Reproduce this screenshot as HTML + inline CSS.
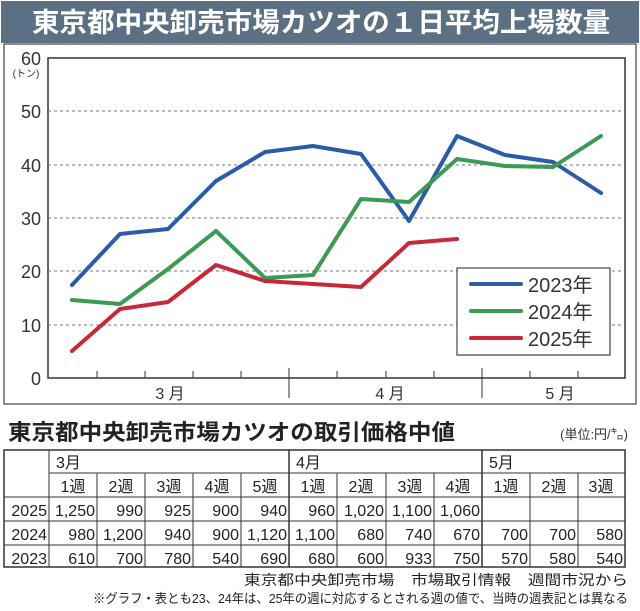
<!DOCTYPE html>
<html><head><meta charset="utf-8"><style>
body{margin:0;width:640px;height:606px;background:#fff;overflow:hidden;font-family:"Liberation Sans","Noto Sans CJK JP",sans-serif;}
</style></head><body>
<svg width="640" height="606" xmlns="http://www.w3.org/2000/svg" font-family="Liberation Sans, Noto Sans CJK JP, sans-serif">
<rect x="0" y="0" width="640" height="606" fill="#fff"/>
<rect x="1" y="1" width="638" height="42" fill="#5b7083"/>
<text x="32" y="32" font-size="27" font-weight="bold" fill="#fff" textLength="578" lengthAdjust="spacingAndGlyphs" font-family="Noto Sans CJK JP, sans-serif">東京都中央卸売市場カツオの１日平均上場数量</text>
<rect x="4" y="44" width="632" height="360" fill="none" stroke="#444" stroke-width="1.2"/>
<rect x="48" y="58" width="577" height="320" fill="none" stroke="#333" stroke-width="1.5"/>
<g stroke="#777" stroke-dasharray="3,3" stroke-width="1">
<line x1="48" y1="111" x2="625" y2="111"/><line x1="48" y1="165" x2="625" y2="165"/><line x1="48" y1="218" x2="625" y2="218"/><line x1="48" y1="271" x2="625" y2="271"/><line x1="48" y1="325" x2="625" y2="325"/>
</g>
<g font-size="18" fill="#333" text-anchor="end">
<text x="41" y="65">60</text><text x="41" y="118">50</text><text x="41" y="172">40</text><text x="41" y="225">30</text><text x="41" y="278">20</text><text x="41" y="332">10</text><text x="41" y="385">0</text>
</g>
<text x="26" y="77" font-size="10" fill="#333" text-anchor="middle">(トン)</text>
<g stroke="#333" stroke-width="1">
<line x1="97" y1="371" x2="97" y2="378"/><line x1="145" y1="371" x2="145" y2="378"/><line x1="193" y1="371" x2="193" y2="378"/><line x1="241" y1="371" x2="241" y2="378"/>
<line x1="289" y1="368" x2="289" y2="398"/>
<line x1="337" y1="371" x2="337" y2="378"/><line x1="386" y1="371" x2="386" y2="378"/><line x1="434" y1="371" x2="434" y2="378"/>
<line x1="482" y1="368" x2="482" y2="398"/>
<line x1="530" y1="371" x2="530" y2="378"/><line x1="578" y1="371" x2="578" y2="378"/>
</g>
<g font-size="16" fill="#333" text-anchor="middle">
<text x="170" y="399">3 月</text><text x="390" y="399">4 月</text><text x="560" y="399">5 月</text>
</g>
<g fill="none" stroke-width="4" stroke-linejoin="round" stroke-linecap="round">
<polyline stroke="#2a5ca8" points="72,285 120,234 168,229 216,181 265,152 313,146 361,154 409,221 457,136 505,155 553,162 601,193"/>
<polyline stroke="#3d9a55" points="72,300 120,304 168,269 216,231 265,278 313,275 361,199 409,202 457,159 505,166 553,167 601,136"/>
<polyline stroke="#c8293a" points="72,351 120,309 168,302 216,265 265,281 313,284 361,287 409,243 457,239"/>
</g>
<rect x="457" y="268" width="153" height="87" fill="#fff" stroke="#444" stroke-width="1.2"/>
<g stroke-width="4" stroke-linecap="round">
<line x1="471" y1="284" x2="521" y2="284" stroke="#2a5ca8"/>
<line x1="471" y1="311" x2="521" y2="311" stroke="#3d9a55"/>
<line x1="471" y1="338" x2="521" y2="338" stroke="#c8293a"/>
</g>
<g font-size="20" fill="#333">
<text x="528" y="292">2023年</text><text x="528" y="319">2024年</text><text x="528" y="346">2025年</text>
</g>
<text x="8" y="440" font-size="22" font-weight="bold" fill="#222" textLength="447" lengthAdjust="spacingAndGlyphs" font-family="Noto Sans CJK JP, sans-serif">東京都中央卸売市場カツオの取引価格中値</text>
<text x="628" y="439" font-size="13" fill="#333" text-anchor="end">(単位:円/㌔)</text>
<g stroke="#333" stroke-width="1">
<rect x="4" y="450" width="621" height="117" fill="none" stroke-width="1.5"/>
<line x1="49" y1="473" x2="625" y2="473"/>
<line x1="4" y1="497" x2="625" y2="497"/>
<line x1="4" y1="521" x2="625" y2="521"/>
<line x1="4" y1="545" x2="625" y2="545"/>
<line x1="49" y1="450" x2="49" y2="567"/>
<line x1="289" y1="450" x2="289" y2="567" stroke-width="1.5"/>
<line x1="482" y1="450" x2="482" y2="567" stroke-width="1.5"/>
<line x1="97" y1="473" x2="97" y2="567"/><line x1="145" y1="473" x2="145" y2="567"/><line x1="193" y1="473" x2="193" y2="567"/><line x1="241" y1="473" x2="241" y2="567"/>
<line x1="337" y1="473" x2="337" y2="567"/><line x1="386" y1="473" x2="386" y2="567"/><line x1="434" y1="473" x2="434" y2="567"/>
<line x1="530" y1="473" x2="530" y2="567"/><line x1="578" y1="473" x2="578" y2="567"/>
</g>
<g font-size="16" fill="#222">
<text x="56" y="468">3月</text><text x="296" y="468">4月</text><text x="489" y="468">5月</text>
</g>
<g font-size="16" fill="#222" text-anchor="middle">
<text x="73" y="492">1週</text><text x="121" y="492">2週</text><text x="169" y="492">3週</text><text x="217" y="492">4週</text><text x="265" y="492">5週</text>
<text x="313" y="492">1週</text><text x="361" y="492">2週</text><text x="410" y="492">3週</text><text x="458" y="492">4週</text>
<text x="506" y="492">1週</text><text x="554" y="492">2週</text><text x="601" y="492">3週</text>
</g>
<g font-size="16" fill="#222" text-anchor="end">
<text x="47" y="516">2025</text><text x="47" y="540">2024</text><text x="47" y="564">2023</text>
<text x="95" y="516">1,250</text><text x="143" y="516">990</text><text x="191" y="516">925</text><text x="239" y="516">900</text><text x="287" y="516">940</text><text x="335" y="516">960</text><text x="384" y="516">1,020</text><text x="432" y="516">1,100</text><text x="480" y="516">1,060</text>
<text x="95" y="540">980</text><text x="143" y="540">1,200</text><text x="191" y="540">940</text><text x="239" y="540">900</text><text x="287" y="540">1,120</text><text x="335" y="540">1,100</text><text x="384" y="540">680</text><text x="432" y="540">740</text><text x="480" y="540">670</text><text x="528" y="540">700</text><text x="576" y="540">700</text><text x="623" y="540">580</text>
<text x="95" y="564">610</text><text x="143" y="564">700</text><text x="191" y="564">780</text><text x="239" y="564">540</text><text x="287" y="564">690</text><text x="335" y="564">680</text><text x="384" y="564">600</text><text x="432" y="564">933</text><text x="480" y="564">750</text><text x="528" y="564">570</text><text x="576" y="564">580</text><text x="623" y="564">540</text>
</g>
<text x="244" y="585" font-size="14" fill="#222" textLength="384" lengthAdjust="spacingAndGlyphs" xml:space="preserve">東京都中央卸売市場　市場取引情報　週間市況から</text>
<text x="93" y="603" font-size="13" fill="#222" textLength="535" lengthAdjust="spacingAndGlyphs">※グラフ・表とも23、24年は、25年の週に対応するとされる週の値で、当時の週表記とは異なる</text>
</svg>
</body></html>
